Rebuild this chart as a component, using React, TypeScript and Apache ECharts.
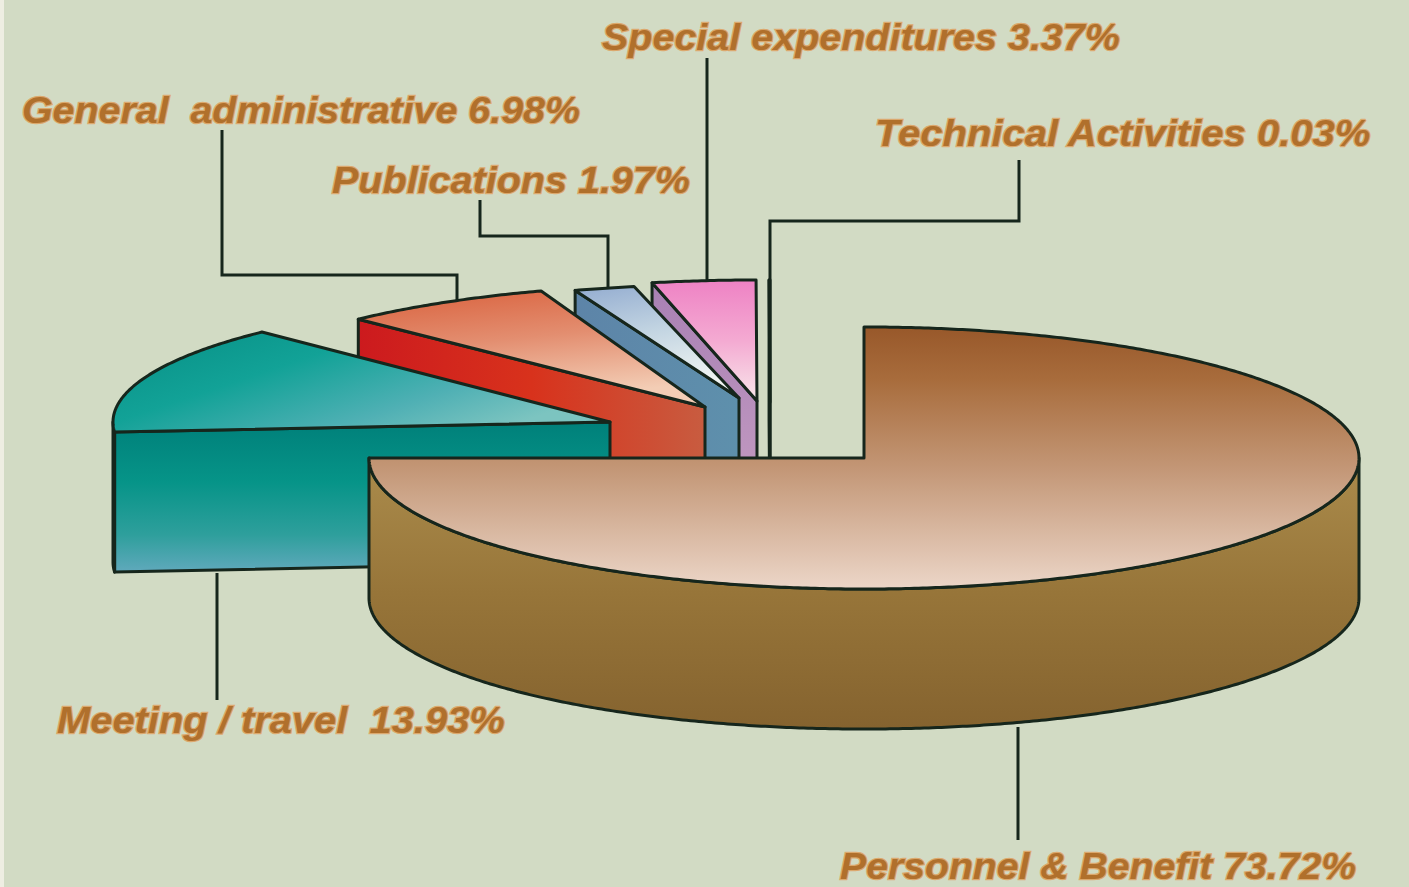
import React, { useEffect, useRef } from "react";
import * as echarts from "echarts";

const categories = [
  "Personnel & Benefit",
  "Meeting / travel ",
  "General  administrative",
  "Publications",
  "Special expenditures",
  "Technical Activities",
];
const values = [73.72, 13.93, 6.98, 1.97, 3.37, 0.03];
const drawOrder = [5, 4, 3, 2, 1, 0];

const WIDTH = 1409;
const HEIGHT = 887;
const DEPTH = 140;
const LINE = "#16261c";
const lg = (x2: number, y2: number, stops: [number, string][]) =>
  new echarts.graphic.LinearGradient(
    0, 0, x2, y2,
    stops.map(([offset, color]) => ({ offset, color }))
  );

const sliceLayout = [
  {
    cx: 864, cy: 458, rx: 495, ry: 131, sweepScale: 270 / 265.39,
    top: lg(0, 1, [[0, "#98582a"], [0.2, "#a86c3c"], [0.55, "#c49878"], [1, "#ecd6c8"]]),
    wall: lg(0, 1, [[0, "#ab8c4c"], [0.5, "#977539"], [1, "#85632f"]]),
  },
  {
    cx: 610, cy: 422, rx: 497, ry: 126, sweepScale: 1,
    top: lg(1, 0.6, [[0, "#068e84"], [0.4, "#12a297"], [0.75, "#4fb0b4"], [1, "#7cc4c0"]]),
    wall: lg(0, 1, [[0, "#00807a"], [0.4, "#069488"], [0.75, "#2e9f9c"], [1, "#60a9bc"]]),
  },
  {
    cx: 705, cy: 407, rx: 495, ry: 123, sweepScale: 1,
    top: lg(0.3, 1, [[0, "#d9603c"], [0.5, "#e38e70"], [1, "#f3cdb5"]]),
    wall: lg(1, 0, [[0, "#cc1a1e"], [0.5, "#d8321c"], [1, "#c85c40"]]),
  },
  {
    cx: 739, cy: 398, rx: 495, ry: 114, sweepScale: 1,
    top: lg(0.3, 1, [[0, "#93acd0"], [0.5, "#c3d5e2"], [1, "#f0f4f2"]]),
    wall: lg(1, 0, [[0, "#5d84a8"], [1, "#5e90ac"]]),
  },
  {
    cx: 757, cy: 401, rx: 495, ry: 121, sweepScale: 1,
    top: lg(0, 1, [[0, "#ee82c4"], [0.5, "#f4aad2"], [1, "#f8e6ea"]]),
    wall: lg(0, 1, [[0, "#a880b4"], [1, "#c8a0c4"]]),
  },
  {
    cx: 770, cy: 402, rx: 495, ry: 122, sweepScale: 1,
    top: LINE,
    wall: LINE,
  },
];

const labelLayout = [
  { x: 840, y: 866, size: 37.5, stretch: 1.045 },
  { x: 57, y: 720, size: 37.5, stretch: 1.064 },
  { x: 22, y: 110, size: 37.5, stretch: 1.05 },
  { x: 332, y: 180, size: 37.5, stretch: 1.054 },
  { x: 602, y: 37, size: 37.5, stretch: 1.053 },
  { x: 875, y: 133, size: 37.5, stretch: 1.068 },
];

const leaders = [
  [[1018, 727], [1018, 840]],
  [[217, 573], [217, 700]],
  [[222, 130], [222, 275], [457, 275], [457, 300]],
  [[480, 200], [480, 236], [608, 236], [608, 287]],
  [[707, 58], [707, 280]],
  [[1019, 160], [1019, 221], [770, 221], [770, 458]],
];

const starts: number[] = [];
values.reduce((sum, v, i) => {
  starts[i] = sum;
  return sum + v;
}, 0);

const TO_DEG = 3.6;

function rim(i: number, deg: number, drop = 0): number[] {
  const s = sliceLayout[i];
  const r = (deg * Math.PI) / 180;
  return [s.cx + s.rx * Math.sin(r), s.cy - s.ry * Math.cos(r) + drop];
}

function arcPoints(i: number, a: number, b: number, drop = 0): number[][] {
  const pts: number[][] = [];
  const n = Math.max(1, Math.ceil(Math.abs(b - a) * 2));
  for (let k = 0; k <= n; k++) pts.push(rim(i, a + ((b - a) * k) / n, drop));
  return pts;
}

function renderSlice(_params: any, api: any) {
  const i = api.value(0) as number;
  const s = sliceLayout[i];
  const a = api.value(2) * TO_DEG;
  const b = a + api.value(1) * TO_DEG * s.sweepScale;
  const apex = [s.cx, s.cy];
  const apexLow = [s.cx, s.cy + DEPTH];
  const common = { stroke: LINE, lineWidth: 3, lineJoin: "round" };
  const children: any[] = [];
  const radialWall = (deg: number) => ({
    type: "polygon",
    shape: { points: [apex, rim(i, deg), rim(i, deg, DEPTH), apexLow] },
    style: { ...common, fill: s.wall },
  });
  // cut faces that look towards the viewer
  if (Math.sin((a * Math.PI) / 180) < 0) children.push(radialWall(a));
  if (Math.sin((b * Math.PI) / 180) > 0.001) children.push(radialWall(b));
  // outer, front-facing rim
  const fa = Math.max(a, 90);
  const fb = Math.min(b, 270);
  if (fb > fa) {
    children.push({
      type: "polygon",
      shape: { points: [...arcPoints(i, fa, fb), ...arcPoints(i, fb, fa, DEPTH)] },
      style: { ...common, fill: s.wall },
    });
  }
  children.push({
    type: "polygon",
    shape: { points: [apex, ...arcPoints(i, a, b)] },
    style: { ...common, fill: s.top },
  });
  return { type: "group", children };
}

export default function App() {
  const ref = useRef<HTMLDivElement>(null);
  useEffect(() => {
    document.body.style.margin = "0";
    const chart = echarts.init(ref.current!, undefined, { renderer: "svg" });
    chart.setOption({
      animation: false,
      backgroundColor: "#d2dbc4",
      series: [
        {
          type: "custom",
          coordinateSystem: "none",
          silent: true,
          renderItem: renderSlice,
          data: drawOrder.map((i) => [i, values[i], starts[i]]),
        },
      ],
      graphic: [
        {
          type: "rect",
          shape: { x: 0, y: 0, width: 4, height: HEIGHT },
          style: { fill: "#eeeee2" },
          silent: true,
        },
        ...leaders.map((pts) => ({
          type: "polyline",
          shape: { points: pts },
          style: { stroke: LINE, lineWidth: 3, fill: "none" },
          silent: true,
        })),
        ...categories.map((name, i) => ({
          type: "text",
          x: labelLayout[i].x,
          y: labelLayout[i].y,
          scaleX: labelLayout[i].stretch,
          silent: true,
          style: {
            text: `${name} ${values[i].toFixed(2)}%`,
            font: `italic bold ${labelLayout[i].size}px "Liberation Sans", Arial, sans-serif`,
            fill: "#b0702c",
            stroke: "rgba(226,134,50,0.6)",
            lineWidth: 2.5,
            textAlign: "left",
            textVerticalAlign: "middle",
            verticalAlign: "middle",
          },
        })),
      ],
    });
    return () => chart.dispose();
  }, []);
  return <div ref={ref} style={{ width: WIDTH, height: HEIGHT, position: "fixed", left: 0, top: 0 }} />;
}
